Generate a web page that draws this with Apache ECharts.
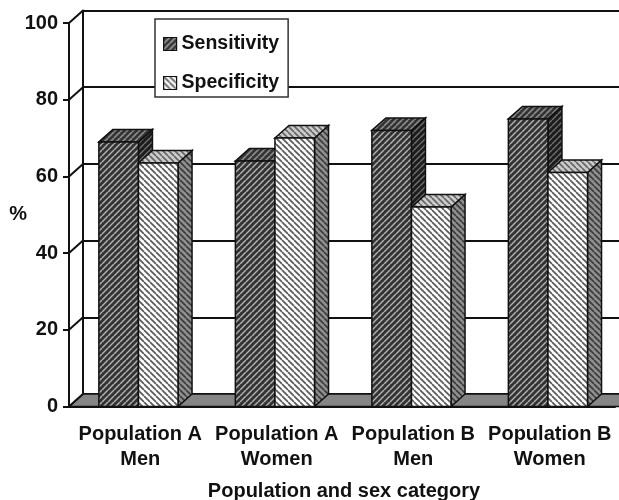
<!DOCTYPE html>
<html><head><meta charset="utf-8">
<style>html,body{margin:0;padding:0;background:#fff}#c{width:619px;height:500px}</style>
<script src="https://cdn.jsdelivr.net/npm/echarts@6/dist/echarts.min.js"></script>
</head><body><div id="c"></div>
<script>
var categories = ['Population A\nMen','Population A\nWomen','Population B\nMen','Population B\nWomen'];
var sensitivity = [69,64,72,75];
var specificity = [63.5,70,52,61];
var yTicks = [0,20,40,60,80,100];
var FONT = '"Liberation Sans", Arial, sans-serif';
var DX = 14, DY = 12.5;

function tile(bg, fg, dir, spacing, w){
  var s = spacing, c = document.createElement('canvas');
  c.width = s; c.height = s;
  var g = c.getContext('2d');
  g.fillStyle = bg; g.fillRect(0,0,s,s);
  g.strokeStyle = fg; g.lineWidth = w;
  for (var i=-s;i<=2*s;i+=s){
    g.beginPath();
    if (dir>0){ g.moveTo(i,s); g.lineTo(i+s,0);} else { g.moveTo(i,0); g.lineTo(i+s,s);}
    g.stroke();
  }
  return {image:c, repeat:'repeat'};
}
var P = {
  sens:{front:tile('#333333','#b0b0b0',1,6,1.5), top:tile('#333333','#8a8a8a',1,6,1.6), side:tile('#1c1c1c','#6e6e6e',1,6,1.4)},
  spec:{front:tile('#fbfbfb','#5a5a5a',-1,6,1.7), top:tile('#cccccc','#666666',-1,6,1.7), side:tile('#8f8f8f','#3c3c3c',-1,6,1.7)}
};
function barRender(pal, sign){
  return function(params, api){
    var p = api.coord([api.value(0), api.value(1)]);
    var base = api.coord([api.value(0), 0]);
    var band = api.size([1,0])[0];
    var w = band*0.29;
    var x0 = (sign<0 ? p[0]-w : p[0]) + 1.2, x1 = x0+w, yT = p[1], yB = base[1];
    var st = function(f){return {fill:f, stroke:'#111', lineWidth:1.5};};
    return {type:'group', children:[
      {type:'polygon', shape:{points:[[x1,yT],[x1+DX,yT-DY],[x1+DX,yB-DY],[x1,yB]]}, style:st(pal.side)},
      {type:'polygon', shape:{points:[[x0,yT],[x0+DX,yT-DY],[x1+DX,yT-DY],[x1,yT]]}, style:st(pal.top)},
      {type:'rect', shape:{x:x0,y:yT,width:w,height:yB-yT}, style:st(pal.front)}
    ]};
  };
}
var chart = echarts.init(document.getElementById('c'), null, {renderer:'canvas'});
var lineC = '#111';
chart.setOption({
  animation:false,
  backgroundColor:'#fff',
  grid:[
    {left:69, top:23, right:4, height:383.5, outerBoundsMode:'none'},
    {left:83, top:10.5, right:0, height:383.5, outerBoundsMode:'none'}
  ],
  legend:{
    show:true, orient:'vertical', left:155, top:19, z:20,
    padding:[15,9,4,8], itemGap:19, itemWidth:13, itemHeight:13,
    backgroundColor:'#fff', borderColor:'#333', borderWidth:1.5,
    textStyle:{fontFamily:FONT, fontWeight:'bold', fontSize:19.5, color:'#111'},
    data:[
      {name:'Sensitivity', icon:'rect', itemStyle:{color:P.sens.front, borderColor:'#111', borderWidth:1.2}},
      {name:'Specificity', icon:'rect', itemStyle:{color:P.spec.front, borderColor:'#111', borderWidth:1.2}}
    ]
  },
  xAxis:[
    {gridIndex:0, type:'category', data:categories, boundaryGap:true,
     axisLine:{onZero:false, lineStyle:{color:lineC,width:2}},
     axisTick:{length:7, lineStyle:{color:lineC,width:2}},
     axisLabel:{interval:0, margin:15, lineHeight:25, padding:[0,0,0,6], fontFamily:FONT, fontWeight:'bold', fontSize:20, color:'#111'},
     name:'Population and sex category', nameLocation:'middle', nameGap:75, nameMoveOverlap:false,
     nameTextStyle:{fontFamily:FONT, fontWeight:'bold', fontSize:20, color:'#111', padding:[0,0,0,4]}},
    {gridIndex:1, type:'category', show:false, data:categories}
  ],
  yAxis:[
    {gridIndex:0, type:'value', min:0, max:100, interval:20,
     axisLine:{show:true, lineStyle:{color:lineC,width:2}},
     axisTick:{show:true, length:6, lineStyle:{color:lineC,width:2}},
     splitLine:{show:false},
     axisLabel:{margin:11, fontFamily:FONT, fontWeight:'bold', fontSize:20, color:'#111'},
     name:'%', nameLocation:'middle', nameGap:42, nameRotate:0, nameMoveOverlap:false,
     nameTextStyle:{fontFamily:FONT, fontWeight:'bold', fontSize:20, color:'#111', padding:[0,0,11,0]}},
    {gridIndex:1, type:'value', min:0, max:100, interval:20,
     axisLine:{show:true, lineStyle:{color:lineC,width:2}},
     axisTick:{show:false}, axisLabel:{show:false},
     splitLine:{show:true, lineStyle:{color:lineC,width:2}}}
  ],
  series:[
    {type:'custom', name:'floor', xAxisIndex:0, yAxisIndex:0, silent:true, z:1, data:[[0,0]],
     renderItem:function(params, api){
       var cs = params.coordSys, y = api.coord([0,0])[1];
       return {type:'polygon', shape:{points:[[cs.x,y],[cs.x+DX,y-DY],[625,y-DY],[625,y]]},
               style:{fill:'#858585', stroke:lineC, lineWidth:1.5}};
     }},
    {type:'custom', name:'diag', xAxisIndex:0, yAxisIndex:0, silent:true, z:1,
     data:yTicks.map(function(v){return [0,v];}),
     renderItem:function(params, api){
       var cs = params.coordSys, y = api.coord([0,api.value(1)])[1];
       return {type:'line', shape:{x1:cs.x,y1:y,x2:cs.x+DX,y2:y-DY}, style:{stroke:lineC,lineWidth:2}};
     }},
    {type:'custom', name:'Sensitivity', xAxisIndex:0, yAxisIndex:0, z:3, itemStyle:{color:P.sens.front},
     data:sensitivity.map(function(v,i){return [i,v];}), renderItem:barRender(P.sens,-1), encode:{x:0,y:1}},
    {type:'custom', name:'Specificity', xAxisIndex:0, yAxisIndex:0, z:4, itemStyle:{color:P.spec.front},
     data:specificity.map(function(v,i){return [i,v];}), renderItem:barRender(P.spec,1), encode:{x:0,y:1}}
  ]
});
</script></body></html>
